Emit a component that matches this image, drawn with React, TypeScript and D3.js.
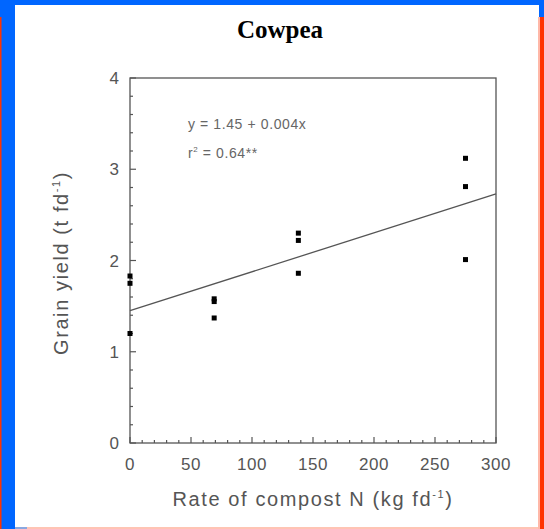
import React from "react";
import * as d3 from "d3";

const W = 544;
const H = 529;

const title = "Cowpea";
const xTicks = [0, 50, 100, 150, 200, 250, 300];
const yTicks = [0, 1, 2, 3, 4];
const xRate = [0, 0, 0, 69, 69, 69, 138, 138, 138, 275, 275, 275];
const yYield = [1.83, 1.75, 1.2, 1.58, 1.55, 1.37, 2.3, 2.22, 1.86, 3.12, 2.81, 2.01];
const fitX = [0, 300];
const fitY = [1.45, 2.73];
const equation = "y = 1.45 + 0.004x";

export default function App() {
  const x = d3.scaleLinear().domain([0, 300]).range([130, 496]);
  const y = d3.scaleLinear().domain([0, 4]).range([443, 78]);
  const minorX = d3.range(0, 301, 10);
  const minorY = d3.range(0, 4.01, 0.2);
  const line = d3.line<number>().x((_, i) => x(fitX[i])).y((d) => y(d));
  const axisCol = "#555";
  const textCol = "#555";
  const sans = "Helvetica, Arial, 'Liberation Sans', sans-serif";
  return (
    <svg width={W} height={H} style={{ position: "absolute", left: 0, top: 0 }}>
      <rect x={0} y={0} width={W} height={H} fill="#ffffff" />
      {/* frame */}
      <rect x={0} y={0} width={W} height={5} fill="#0066ff" />
      <rect x={0} y={0} width={15} height={H} fill="#0066ff" />
      <rect x={0} y={17} width={1.5} height={H - 17} fill="#ff3300" />
      <rect x={539} y={0} width={5} height={17} fill="#0066ff" />
      <rect x={540} y={17} width={4} height={H - 17} fill="#ff3300" />
      <rect x={538} y={17} width={2} height={H - 17} fill="#ffb8a8" />
      <rect x={15} y={527} width={523} height={2} fill="#ffc4b4" />
      <rect x={15} y={527} width={12} height={2} fill="#8aa8e0" />

      <text x={280} y={38} textAnchor="middle" fontFamily="'Times New Roman', 'Liberation Serif', serif" fontWeight="bold" fontSize={25} fill="#000">
        {title}
      </text>

      {/* plot box */}
      <rect x={x(0)} y={y(4)} width={x(300) - x(0)} height={y(0) - y(4)} fill="none" stroke={axisCol} strokeWidth={1.3} />

      {minorX.map((v) => (
        <line key={"mx" + v} x1={x(v)} x2={x(v)} y1={y(0)} y2={y(0) - (v % 50 === 0 ? 6 : 3)} stroke={axisCol} strokeWidth={1.2} />
      ))}
      {minorY.map((v, i) => (
        <line key={"my" + i} x1={x(0)} x2={x(0) + (i % 5 === 0 ? 6 : 3)} y1={y(v)} y2={y(v)} stroke={axisCol} strokeWidth={1.2} />
      ))}

      {xTicks.map((v) => (
        <text key={"xt" + v} x={x(v)} y={470} textAnchor="middle" fontFamily={sans} fontSize={17} fill={textCol} letterSpacing={0.5}>
          {v}
        </text>
      ))}
      {yTicks.map((v) => (
        <text key={"yt" + v} x={119} y={y(v) + 6} textAnchor="end" fontFamily={sans} fontSize={17} fill={textCol}>
          {v}
        </text>
      ))}

      <text x={313} y={506} textAnchor="middle" fontFamily={sans} fontSize={20} fill={textCol} letterSpacing={1.6}>
        Rate of compost N (kg fd<tspan dy={-8} fontSize={11}>-1</tspan><tspan dy={8}>)</tspan>
      </text>
      <text transform={`translate(68,263) rotate(-90)`} textAnchor="middle" fontFamily={sans} fontSize={20} fill={textCol} letterSpacing={1.6}>
        Grain yield (t fd<tspan dy={-8} fontSize={11}>-1</tspan><tspan dy={8}>)</tspan>
      </text>

      <path d={line(fitY) || ""} fill="none" stroke="#555" strokeWidth={1.3} />

      {xRate.map((v, i) => (
        <rect key={"p" + i} x={x(v) - 2.5} y={y(yYield[i]) - 2.5} width={5} height={5} fill="#000" />
      ))}

      <text x={188} y={129} fontFamily={sans} fontSize={14} fill="#666" letterSpacing={0.6}>
        {equation}
      </text>
      <text x={188} y={158} fontFamily={sans} fontSize={14} fill="#666" letterSpacing={0.6}>
        r<tspan dy={-6} fontSize={8}>2</tspan><tspan dy={6}> = 0.64**</tspan>
      </text>
    </svg>
  );
}
